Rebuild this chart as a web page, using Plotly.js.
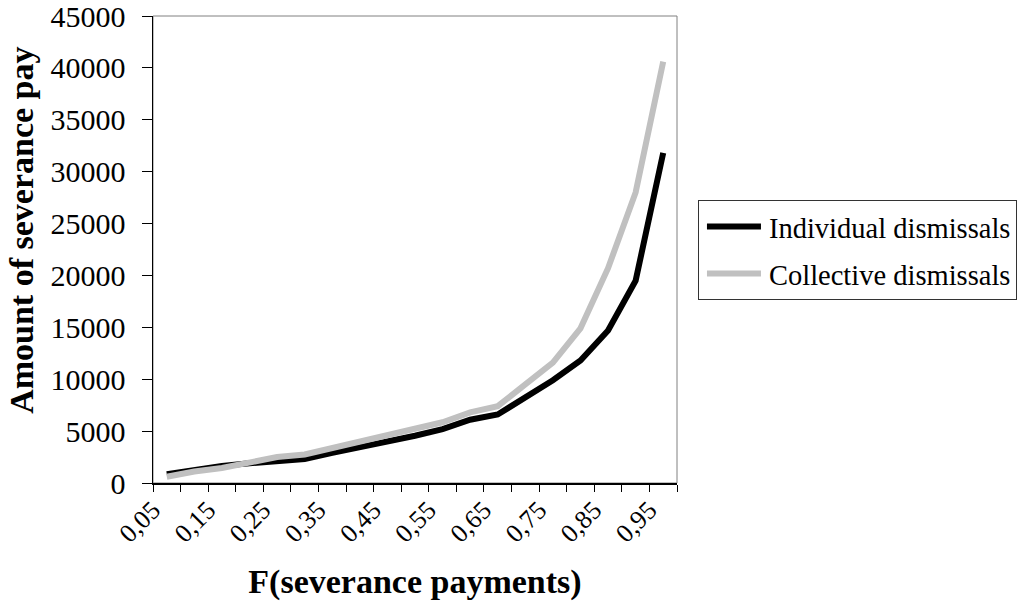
<!DOCTYPE html>
<html>
<head>
<meta charset="utf-8">
<script src="https://cdn.plot.ly/plotly-3.0.1.min.js"></script>
<style>html,body{margin:0;padding:0;background:#fff;}#chart{width:1019px;height:611px;}</style>
</head>
<body>
<div id="chart"></div>
<script>
var categories = ["0,05","0,1","0,15","0,2","0,25","0,3","0,35","0,4","0,45","0,5","0,55","0,6","0,65","0,7","0,75","0,8","0,85","0,9","0,95"];
var individual = [850, 1300, 1650, 1900, 2150, 2300, 2900, 3450, 3950, 4550, 5200, 6100, 6600, 8200, 9900, 11800, 14700, 19500, 31800];
var collective = [600, 1100, 1450, 1950, 2500, 2750, 3400, 4000, 4650, 5300, 5850, 6800, 7400, 9500, 11600, 14900, 20700, 28000, 40600];
var yTicks = [0, 5000, 10000, 15000, 20000, 25000, 30000, 35000, 40000, 45000];

var tickText = categories.map(function (c, i) { return i % 2 === 0 ? c : ""; });
var serif = "Liberation Serif, Times New Roman, serif";

var traces = [
  {x: categories, y: individual, type: "scatter", mode: "lines", name: "Individual dismissals",
   legendgroup: "a", line: {color: "#000000", width: 6}},
  {x: categories, y: collective, type: "scatter", mode: "lines", name: "Collective dismissals",
   legendgroup: "b", line: {color: "#c0c0c0", width: 6}}
];

var layout = {
  width: 1019, height: 611,
  margin: {l: 153, r: 342, t: 16, b: 128, pad: 0, autoexpand: false},
  paper_bgcolor: "#ffffff", plot_bgcolor: "#ffffff",
  font: {family: serif, color: "#000000", size: 29},
  showlegend: true,
  legend: {x: 1.04, xanchor: "left", y: 0.605, yanchor: "top",
           bordercolor: "#333333", borderwidth: 1, bgcolor: "#ffffff",
           itemwidth: 60, tracegroupgap: 7,
           font: {family: serif, size: 28.5, color: "#000"}},
  xaxis: {
    type: "category", categoryorder: "array", categoryarray: categories,
    tickmode: "array", tickvals: categories, ticktext: tickText,
    tickson: "boundaries", ticks: "outside", ticklen: 7, tickwidth: 1, tickcolor: "#000",
    tickangle: -45, tickfont: {family: serif, size: 26}, ticklabelshift: -14,
    showline: true, linecolor: "#000", linewidth: 1.5, showgrid: false, zeroline: false,
    range: [-0.5, categories.length - 0.5],
    title: {text: "<b>F(severance payments)</b>", font: {family: serif, size: 34}, standoff: 22}
  },
  yaxis: {
    range: [0, 45000], tickmode: "array", tickvals: yTicks, ticktext: yTicks.map(String),
    ticks: "outside", ticklen: 10, tickwidth: 1, tickcolor: "#000",
    ticklabelstandoff: 10, ticklabeloverflow: "allow", tickfont: {family: serif, size: 30},
    showline: true, linecolor: "#000", linewidth: 1.5, showgrid: false, zeroline: false
  },
  annotations: [{
    text: "<b>Amount of severance pay</b>", xref: "paper", yref: "paper",
    x: -0.25, y: 0.54, xanchor: "center", yanchor: "middle", textangle: -90,
    showarrow: false, font: {family: serif, size: 34, color: "#000"}
  }],
  shapes: [{type: "rect", xref: "paper", yref: "paper", x0: 0, x1: 1, y0: 0, y1: 1,
            line: {color: "#808080", width: 1}, layer: "below"}]
};

Plotly.newPlot("chart", traces, layout, {displayModeBar: false, staticPlot: true}).then(function (gd) {
  // lengthen the legend line samples to match the reference style
  var paths = gd.querySelectorAll(".legend .traces .legendlines path");
  paths.forEach(function (p) { p.setAttribute("d", "M8,0h54"); });
});
</script>
</body>
</html>
